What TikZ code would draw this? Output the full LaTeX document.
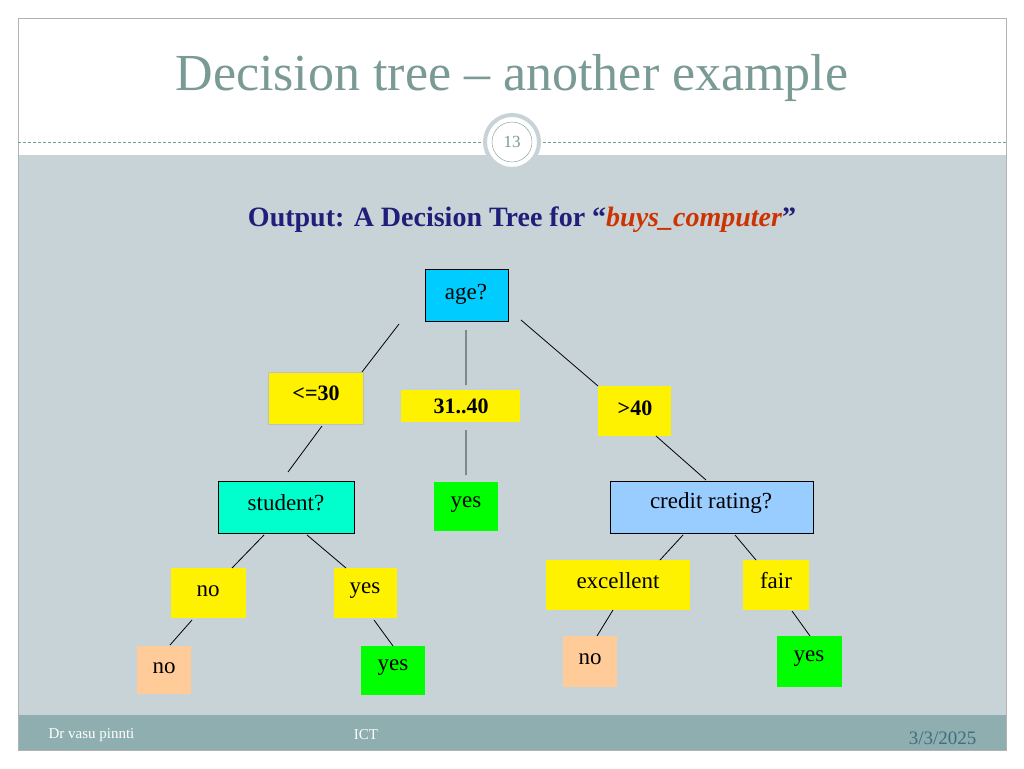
\documentclass[tikz,border=0pt]{standalone}
\usepackage{fontspec}
\setmainfont{Liberation Serif}
\begin{document}
\begin{tikzpicture}[x=1pt,y=-1pt,
  t/.style={font=\fontsize{23}{25}\selectfont},
  tb/.style={font=\bfseries\fontsize{22}{24}\selectfont},
  ln/.style={line width=0.8pt}]
\definecolor{bgc}{HTML}{C8D3D8}\definecolor{foot}{HTML}{8FAEB0}
\definecolor{ttl}{HTML}{7A9A95}\definecolor{navy}{HTML}{1F1F7A}
\definecolor{org}{HTML}{CC3300}\definecolor{peach}{HTML}{FFCC99}
\definecolor{lblue}{HTML}{99CCFF}\definecolor{aqua}{HTML}{00FFCC}
\definecolor{cy}{HTML}{00CCFF}\definecolor{dt}{HTML}{3E6E80}
\useasboundingbox (0,0) rectangle (1024,768);
\fill[white] (0,0) rectangle (1024,768);
\fill[bgc] (18,155) rectangle (1006,715);
\fill[foot] (18,715) rectangle (1006,750);
\draw[gray!60] (18,18) rectangle (1006,750);
\draw[ttl,densely dashed] (18,142) -- (1006,142);
\node[ttl,font=\fontsize{52}{56}\selectfont] (title) at (512,78) {Decision tree -- another example};
\node[circle,fill=white,draw=bgc,line width=4pt,minimum size=54pt] (c) at (512,142) {};
\node[circle,draw=ttl,minimum size=40pt,font=\fontsize{17}{18}\selectfont,text=ttl] (num) at (512,142) {13};
\node[font=\bfseries\fontsize{28}{30}\selectfont] (out) at (522,220) {\textcolor{navy}{Output: A Decision Tree for ``}\textcolor{org}{\itshape buys\_computer}\textcolor{navy}{''}};
\newcommand{\bxx}[6]{\fill[#5] (#1,#2) rectangle (#3,#4); \draw[#6,line width=0.7pt] (#1,#2) rectangle (#3,#4);}
\bxx{425}{269}{508}{321}{cy}{black}
\node[t] (age) at (466,294) {age?};
\bxx{268}{372}{363}{424}{yellow}{gray!50}
\node[tb] (le) at (316,393) {<=30};
\fill[yellow] (401,390) rectangle (520,422);
\node[tb] (mid) at (461,406) {31..40};
\fill[yellow] (598,386) rectangle (671,436);
\node[tb] (gt) at (635,408) {>40};
\bxx{218}{481}{354}{533}{aqua}{black}
\node[t] (stu) at (286,503) {student?};
\fill[green] (434,482) rectangle (498,531);
\node[t] (y1) at (466,505) {yes};
\bxx{610}{481}{813}{533}{lblue}{black}
\node[t] (cr) at (711,503) {credit rating?};
\fill[yellow] (171,568) rectangle (246,618); \node[t] (n1) at (208,591) {no};
\fill[yellow] (334,568) rectangle (397,618); \node[t] (y2) at (365,591) {yes};
\fill[yellow] (546,560) rectangle (690,610); \node[t] (ex) at (618,581) {excellent};
\fill[yellow] (743,560) rectangle (809,610); \node[t] (fa) at (776,581) {fair};
\fill[peach] (137,646) rectangle (191,694); \node[t] (n2) at (164,668) {no};
\fill[green] (361,646) rectangle (425,695); \node[t] (y3) at (393,668) {yes};
\fill[peach] (563,636) rectangle (617,687); \node[t] (n3) at (590,659) {no};
\fill[green] (777,636) rectangle (842,687); \node[t] (y4) at (809,659) {yes};
\draw[ln] (399,324)--(362,372) (466,330)--(466,385) (521,320)--(598,386)
 (322,426)--(288,472) (466,430)--(466,475) (656,436)--(706,480)
 (264,535)--(232,568) (307,535)--(346,568) (683,535)--(660,560)
 (735,535)--(756,560) (192,620)--(170,645) (374,620)--(393,646)
 (613,610)--(597,636) (792,611)--(810,636);
\node[white,font=\fontsize{15}{16}\selectfont,anchor=west] (f1) at (45,735) {Dr vasu pinnti};
\node[white,font=\fontsize{15}{16}\selectfont] (f2) at (366,735) {ICT};
\node[dt,font=\fontsize{19}{20}\selectfont,anchor=east] (f3) at (980,738) {3/3/2025};
\end{tikzpicture}
\end{document}
